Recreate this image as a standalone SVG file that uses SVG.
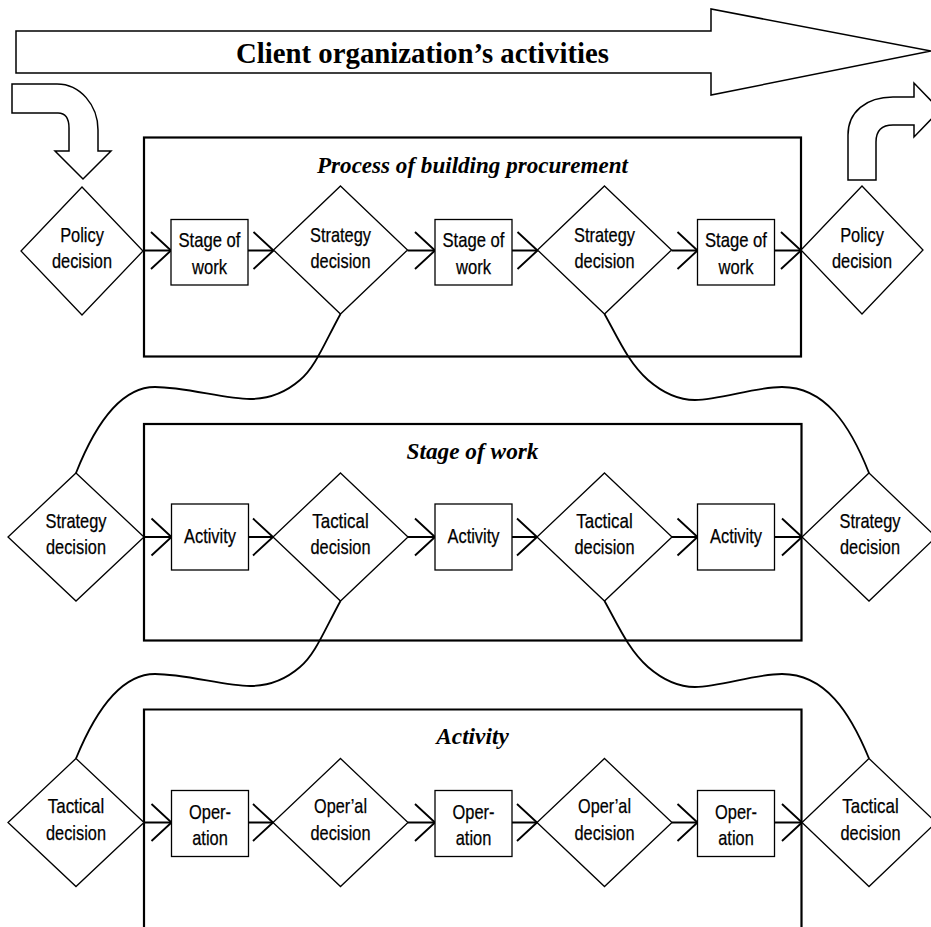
<svg xmlns="http://www.w3.org/2000/svg" width="931" height="927" viewBox="0 0 931 927">
<style>
.bg{fill:#fff}
.node{fill:#fff;stroke:#000;stroke-width:1.3}
.frame{fill:none;stroke:#000;stroke-width:2.2}
.conn{fill:none;stroke:#000;stroke-width:2}
.curve{fill:none;stroke:#000;stroke-width:1.8}
.big{fill:#fff;stroke:#000;stroke-width:1.5}
.lbl{font-family:"Liberation Sans Narrow","Liberation Sans",Arial,sans-serif;font-size:21px;text-anchor:middle;fill:#000;stroke:#000;stroke-width:0.25}
.ttl{font-family:"Liberation Serif","Times New Roman",serif;font-weight:bold;font-style:italic;font-size:23.3px;text-anchor:middle;fill:#000}
.head{font-family:"Liberation Serif","Times New Roman",serif;font-weight:bold;font-size:30px;text-anchor:middle;fill:#000}
</style>
<defs>
<marker id="chev" markerUnits="userSpaceOnUse" viewBox="-22 -21 24 42" refX="0" refY="0" markerWidth="24" markerHeight="42" orient="auto">
<path d="M-20,-18.5 L0,0 L-20,18.5" fill="none" stroke="#000" stroke-width="1.9"/>
</marker>
</defs>
<rect class="bg" x="0" y="0" width="931" height="927"/>

<g id="client-arrows">
<path class="big" d="M16,31 L711,31 L711,9 L931,51 L711,95 L711,73 L16,73 Z"/>
<text class="head" x="422.5" y="62.5" textLength="373" lengthAdjust="spacingAndGlyphs">Client organization’s activities</text>
<path class="big" d="M12,84 L57,84 C80,84 98,105 98,130 L98,151 L111,151 L83,179 L55,151 L69,151 L69,128 C69,118 65,113 58,113 L12,113 Z"/>
<path class="big" d="M848,180 L848,135 C848,112 866,97 893,97 L914,97 L914,83 L940,110 L914,137 L914,125 L893,125 C882,125 876,131 876,142 L876,180 Z"/>
</g>

<g id="frames">
<g id="frame-process">
<rect class="frame" x="144" y="137.5" width="657" height="219"/>
<text class="ttl" x="472.5" y="172.7" textLength="311" lengthAdjust="spacingAndGlyphs">Process of building procurement</text>
</g>
<g id="frame-stage">
<rect class="frame" x="144" y="424" width="657.5" height="216.5"/>
<text class="ttl" x="472.5" y="459.3">Stage of work</text>
</g>
<g id="frame-activity">
<path class="frame" d="M144,930 V709.5 H801.5 V930"/>
<text class="ttl" x="472.5" y="744">Activity</text>
</g>
</g>

<g id="connectors">
<path class="curve" d="M340.5,314 C325,342 315,368 300,380 C285,393 270,399 250,399 C225,399 185,387 155,387 C120,387 95,425 76,473"/>
<path class="curve" d="M604.5,314 C618,338 628,362 648,380 C663,393 678,400 695,400 C720,400 755,387 782,387 C825,387 850,425 869,473"/>
<path class="curve" d="M340.5,601 C325,629 315,655 300,667 C285,680 270,686 250,686 C225,686 185,674 155,674 C120,674 95,712 76,758.5"/>
<path class="curve" d="M604.5,601 C618,625 628,649 648,667 C663,680 678,687 695,687 C720,687 755,674 782,674 C825,674 850,712 869,758.5"/>
<line class="conn" x1="143" y1="250.5" x2="171" y2="250.5" marker-end="url(#chev)"/>
<line class="conn" x1="248" y1="250.5" x2="273.5" y2="250.5" marker-end="url(#chev)"/>
<line class="conn" x1="407.5" y1="250.5" x2="435" y2="250.5" marker-end="url(#chev)"/>
<line class="conn" x1="512" y1="250.5" x2="537.5" y2="250.5" marker-end="url(#chev)"/>
<line class="conn" x1="671.5" y1="250.5" x2="697.5" y2="250.5" marker-end="url(#chev)"/>
<line class="conn" x1="774.5" y1="250.5" x2="801" y2="250.5" marker-end="url(#chev)"/>
<line class="conn" x1="144" y1="537" x2="171.5" y2="537" marker-end="url(#chev)"/>
<line class="conn" x1="248.5" y1="537" x2="273" y2="537" marker-end="url(#chev)"/>
<line class="conn" x1="408" y1="537" x2="435" y2="537" marker-end="url(#chev)"/>
<line class="conn" x1="512" y1="537" x2="537" y2="537" marker-end="url(#chev)"/>
<line class="conn" x1="672" y1="537" x2="697.5" y2="537" marker-end="url(#chev)"/>
<line class="conn" x1="774.5" y1="537" x2="802" y2="537" marker-end="url(#chev)"/>
<line class="conn" x1="144" y1="822.5" x2="171.5" y2="822.5" marker-end="url(#chev)"/>
<line class="conn" x1="248.5" y1="822.5" x2="273" y2="822.5" marker-end="url(#chev)"/>
<line class="conn" x1="408" y1="822.5" x2="435" y2="822.5" marker-end="url(#chev)"/>
<line class="conn" x1="512" y1="822.5" x2="537" y2="822.5" marker-end="url(#chev)"/>
<line class="conn" x1="672" y1="822.5" x2="697.5" y2="822.5" marker-end="url(#chev)"/>
<line class="conn" x1="774.5" y1="822.5" x2="802" y2="822.5" marker-end="url(#chev)"/>
</g>

<!-- Row 1 -->
<g id="policy-left"><polygon class="node" points="82,187 143,251 82,315 21,251"/>
<text class="lbl" x="82" y="242" textLength="43.7" lengthAdjust="spacingAndGlyphs">Policy</text>
<text class="lbl" x="82" y="268.3" textLength="60" lengthAdjust="spacingAndGlyphs">decision</text></g>
<g id="stage-1"><rect class="node" x="171" y="219.5" width="77" height="65.5"/>
<text class="lbl" x="209.5" y="246.7" textLength="62" lengthAdjust="spacingAndGlyphs">Stage of</text>
<text class="lbl" x="209.5" y="274" textLength="35" lengthAdjust="spacingAndGlyphs">work</text></g>
<g id="strategy-1"><polygon class="node" points="340.5,186 407.5,250 340.5,314 273.5,250"/>
<text class="lbl" x="340.5" y="241.5" textLength="61" lengthAdjust="spacingAndGlyphs">Strategy</text>
<text class="lbl" x="340.5" y="267.5" textLength="60" lengthAdjust="spacingAndGlyphs">decision</text></g>
<g id="stage-2"><rect class="node" x="435" y="219.5" width="77" height="65.5"/>
<text class="lbl" x="473.5" y="246.7" textLength="62" lengthAdjust="spacingAndGlyphs">Stage of</text>
<text class="lbl" x="473.5" y="274" textLength="35" lengthAdjust="spacingAndGlyphs">work</text></g>
<g id="strategy-2"><polygon class="node" points="604.5,186 671.5,250 604.5,314 537.5,250"/>
<text class="lbl" x="604.5" y="241.5" textLength="61" lengthAdjust="spacingAndGlyphs">Strategy</text>
<text class="lbl" x="604.5" y="267.5" textLength="60" lengthAdjust="spacingAndGlyphs">decision</text></g>
<g id="stage-3"><rect class="node" x="697.5" y="219.5" width="77" height="65.5"/>
<text class="lbl" x="736" y="246.7" textLength="62" lengthAdjust="spacingAndGlyphs">Stage of</text>
<text class="lbl" x="736" y="274" textLength="35" lengthAdjust="spacingAndGlyphs">work</text></g>
<g id="policy-right"><polygon class="node" points="862,186 923,250 862,314 801,250"/>
<text class="lbl" x="862" y="241.5" textLength="43.7" lengthAdjust="spacingAndGlyphs">Policy</text>
<text class="lbl" x="862" y="267.5" textLength="60" lengthAdjust="spacingAndGlyphs">decision</text></g>

<!-- Row 2 -->
<g id="strategy-left"><polygon class="node" points="76,473 144,537 76,601 8,537"/>
<text class="lbl" x="76" y="528.3" textLength="61" lengthAdjust="spacingAndGlyphs">Strategy</text>
<text class="lbl" x="76" y="554" textLength="60" lengthAdjust="spacingAndGlyphs">decision</text></g>
<g id="activity-1"><rect class="node" x="171.5" y="504" width="77" height="66"/>
<text class="lbl" x="210" y="543" textLength="52" lengthAdjust="spacingAndGlyphs">Activity</text></g>
<g id="tactical-1"><polygon class="node" points="340.5,473 408,537 340.5,601 273,537"/>
<text class="lbl" x="340.5" y="528" textLength="56.5" lengthAdjust="spacingAndGlyphs">Tactical</text>
<text class="lbl" x="340.5" y="554" textLength="60" lengthAdjust="spacingAndGlyphs">decision</text></g>
<g id="activity-2"><rect class="node" x="435" y="504" width="77" height="66"/>
<text class="lbl" x="473.5" y="543" textLength="52" lengthAdjust="spacingAndGlyphs">Activity</text></g>
<g id="tactical-2"><polygon class="node" points="604.5,473 672,537 604.5,601 537,537"/>
<text class="lbl" x="604.5" y="528" textLength="56.5" lengthAdjust="spacingAndGlyphs">Tactical</text>
<text class="lbl" x="604.5" y="554" textLength="60" lengthAdjust="spacingAndGlyphs">decision</text></g>
<g id="activity-3"><rect class="node" x="697.5" y="504" width="77" height="66"/>
<text class="lbl" x="736" y="543" textLength="52" lengthAdjust="spacingAndGlyphs">Activity</text></g>
<g id="strategy-right"><polygon class="node" points="869,473 936,537 869,601 802,537"/>
<text class="lbl" x="870" y="528.3" textLength="61" lengthAdjust="spacingAndGlyphs">Strategy</text>
<text class="lbl" x="870" y="554" textLength="60" lengthAdjust="spacingAndGlyphs">decision</text></g>

<!-- Row 3 -->
<g id="tactical-left"><polygon class="node" points="76,758.5 144,822.5 76,886.5 8,822.5"/>
<text class="lbl" x="76" y="813" textLength="56.5" lengthAdjust="spacingAndGlyphs">Tactical</text>
<text class="lbl" x="76" y="839.5" textLength="60" lengthAdjust="spacingAndGlyphs">decision</text></g>
<g id="operation-1"><rect class="node" x="171.5" y="790.5" width="77" height="66"/>
<text class="lbl" x="210" y="819" textLength="42" lengthAdjust="spacingAndGlyphs">Oper-</text>
<text class="lbl" x="210" y="845" textLength="35.6" lengthAdjust="spacingAndGlyphs">ation</text></g>
<g id="operal-1"><polygon class="node" points="340.5,758.5 408,822.5 340.5,886.5 273,822.5"/>
<text class="lbl" x="340.5" y="813" textLength="53" lengthAdjust="spacingAndGlyphs">Oper’al</text>
<text class="lbl" x="340.5" y="839.5" textLength="60" lengthAdjust="spacingAndGlyphs">decision</text></g>
<g id="operation-2"><rect class="node" x="435" y="790.5" width="77" height="66"/>
<text class="lbl" x="473.5" y="819" textLength="42" lengthAdjust="spacingAndGlyphs">Oper-</text>
<text class="lbl" x="473.5" y="845" textLength="35.6" lengthAdjust="spacingAndGlyphs">ation</text></g>
<g id="operal-2"><polygon class="node" points="604.5,758.5 672,822.5 604.5,886.5 537,822.5"/>
<text class="lbl" x="604.5" y="813" textLength="53" lengthAdjust="spacingAndGlyphs">Oper’al</text>
<text class="lbl" x="604.5" y="839.5" textLength="60" lengthAdjust="spacingAndGlyphs">decision</text></g>
<g id="operation-3"><rect class="node" x="697.5" y="790.5" width="77" height="66"/>
<text class="lbl" x="736" y="819" textLength="42" lengthAdjust="spacingAndGlyphs">Oper-</text>
<text class="lbl" x="736" y="845" textLength="35.6" lengthAdjust="spacingAndGlyphs">ation</text></g>
<g id="tactical-right"><polygon class="node" points="869,758.5 936,822.5 869,886.5 802,822.5"/>
<text class="lbl" x="870.5" y="813" textLength="56.5" lengthAdjust="spacingAndGlyphs">Tactical</text>
<text class="lbl" x="870.5" y="839.5" textLength="60" lengthAdjust="spacingAndGlyphs">decision</text></g>
</svg>
